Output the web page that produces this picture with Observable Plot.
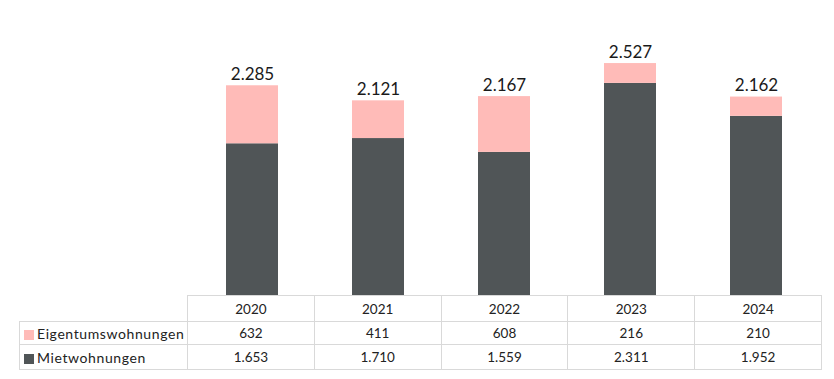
<!DOCTYPE html>
<html>
<head>
<meta charset="utf-8">
<script src="https://cdn.jsdelivr.net/npm/d3@7"></script>
<script src="https://cdn.jsdelivr.net/npm/@observablehq/plot@0.6"></script>
<style>
  html, body { margin: 0; padding: 0; background: #fff; }
  #wrap { position: relative; width: 834px; height: 379px; font-family: Lato, "Open Sans", sans-serif; }
  #chart { position: absolute; left: 0; top: 0; }
  #tbl { position: absolute; left: 19px; top: 295px; border-collapse: collapse; font-size: 13.5px; color: #222; table-layout: fixed; }
  #tbl td { border: 1.5px solid #d9d9d9; padding: 0; text-align: center; }
  #tbl td.lab { text-align: left; padding-left: 4px; white-space: nowrap; letter-spacing: 0.6px; font-size: 14px; }
  #tbl td.empty { border: none; border-right: 1.5px solid #d9d9d9; }
  .sw { display: inline-block; width: 10px; height: 10px; margin-right: 3px; vertical-align: -1px; }
</style>
</head>
<body>
<div id="wrap">
  <div id="chart"></div>
  <table id="tbl"></table>
</div>
<script>
const years = ["2020", "2021", "2022", "2023", "2024"];
const eigentum = [632, 411, 608, 216, 210];
const miete = [1653, 1710, 1559, 2311, 1952];
const seriesNames = ["Mietwohnungen", "Eigentumswohnungen"];
const colors = ["#505557", "#ffbbb8"];

const de = d3.formatLocale({decimal: ",", thousands: ".", grouping: [3], currency: ["", " €"]});
const fmt = de.format(",");

const rows = [];
years.forEach((y, i) => {
  rows.push({year: y, series: seriesNames[0], value: miete[i]});
  rows.push({year: y, series: seriesNames[1], value: eigentum[i]});
});
const totals = years.map((y, i) => ({year: y, total: miete[i] + eigentum[i]}));

const plot = Plot.plot({
  width: 834,
  height: 296,
  marginLeft: 187,
  marginRight: 13,
  marginTop: 38,
  marginBottom: 1,
  x: {domain: years, paddingInner: 0.59, paddingOuter: 0.295, axis: null},
  y: {domain: [0, 2800], axis: null},
  color: {domain: seriesNames, range: colors},
  marks: [
    Plot.barY(rows, {x: "year", y: "value", fill: "series", order: seriesNames}),
    Plot.text(totals, {x: "year", y: "total", text: d => fmt(d.total), lineAnchor: "bottom", dy: -6,
      fontSize: 17, fill: "#1a1a1a", fontFamily: "Lato, 'Open Sans', sans-serif"})
  ]
});
document.getElementById("chart").appendChild(plot);

// data table
const tbl = document.getElementById("tbl");
const colW = 126.8;
let html = '<colgroup><col style="width:168px">' + years.map(() => `<col style="width:${colW}px">`).join("") + '</colgroup>';
html += '<tr style="height:26px"><td class="empty"></td>' +
  years.map(y => `<td>${y}</td>`).join("") + "</tr>";
html += `<tr style="height:23px"><td class="lab"><span class="sw" style="background:${colors[1]}"></span>${seriesNames[1]}</td>` +
  eigentum.map(v => `<td>${fmt(v)}</td>`).join("") + "</tr>";
html += `<tr style="height:25px"><td class="lab"><span class="sw" style="background:${colors[0]}"></span>${seriesNames[0]}</td>` +
  miete.map(v => `<td>${fmt(v)}</td>`).join("") + "</tr>";
tbl.innerHTML = html;
</script>
</body>
</html>
